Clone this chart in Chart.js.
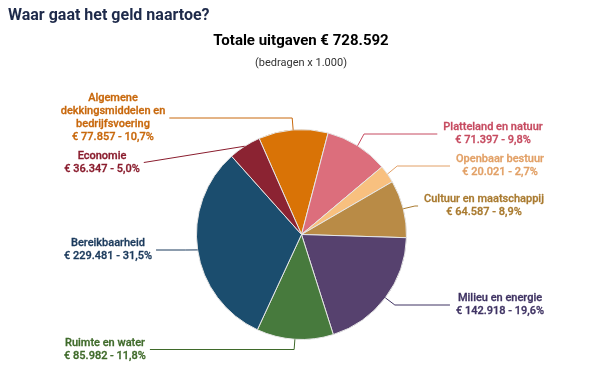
<!DOCTYPE html>
<html>
<head>
<meta charset="utf-8">
<script src="https://cdn.jsdelivr.net/npm/chart.js@4"></script>
<style>
  html, body { margin: 0; padding: 0; background: #ffffff; }
  canvas { display: block; }
</style>
</head>
<body>
<canvas id="c" width="602" height="384"></canvas>
<script>
// ---- Data ----
const categories = [
  "Algemene dekkingsmiddelen en bedrijfsvoering",
  "Platteland en natuur",
  "Openbaar bestuur",
  "Cultuur en maatschappij",
  "Milieu en energie",
  "Ruimte en water",
  "Bereikbaarheid",
  "Economie"
];
const amounts = [77857, 71397, 20021, 64587, 142918, 85982, 229481, 36347];
const percentages = ["10,7", "9,8", "2,7", "8,9", "19,6", "11,8", "31,5", "5,0"];
const amountLabels = ["77.857", "71.397", "20.021", "64.587", "142.918", "85.982", "229.481", "36.347"];
const chartTitle = "Waar gaat het geld naartoe?";
const totalTitle = "Totale uitgaven € 728.592";
const subTitle = "(bedragen x 1.000)";

// ---- Styles / layout ----
const sliceColors = ["#D97306", "#DC6E7C", "#F8C07F", "#B98B46", "#56416E", "#477A3D", "#1B4D6E", "#8B2332"];
const labelColors = ["#C8680C", "#C64B60", "#E2A066", "#A97A2F", "#3F3363", "#3F6A2A", "#1B3A5C", "#8A1D2E"];
// label box centre (x, y), side, wrap width, straight connector
const labelLayout = [
  { cx: 113, cy: 118, side: "left",  wrap: 115 },
  { cx: 493, cy: 134, side: "right", wrap: 160 },
  { cx: 500, cy: 166, side: "right", wrap: 160 },
  { cx: 484, cy: 206, side: "right", wrap: 160 },
  { cx: 500, cy: 305, side: "right", wrap: 160 },
  { cx: 105, cy: 349.5, side: "left", wrap: 115 },
  { cx: 108, cy: 250, side: "left",  wrap: 115 },
  { cx: 102, cy: 162.5, side: "left", wrap: 115, straight: true }
];
const LABEL_FONT = "500 11px Roboto, 'Liberation Sans', sans-serif";
const LINE_H = 13;

function wrapText(ctx, text, maxW) {
  const words = text.split(" ");
  const lines = [];
  let cur = "";
  words.forEach(w => {
    const t = cur ? cur + " " + w : w;
    if (ctx.measureText(t).width > maxW && cur) { lines.push(cur); cur = w; }
    else cur = t;
  });
  if (cur) lines.push(cur);
  return lines;
}

const labelPlugin = {
  id: "pieLabels",
  afterDraw(chart) {
    const ctx = chart.ctx;
    ctx.save();
    // Titles
    ctx.fillStyle = "#1E2A4A";
    ctx.font = "700 16px Roboto, 'Liberation Sans', sans-serif";
    ctx.textAlign = "left";
    ctx.textBaseline = "alphabetic";
    ctx.fillText(chartTitle, 8, 20);
    ctx.fillStyle = "#000000";
    ctx.font = "700 15px Roboto, 'Liberation Sans', sans-serif";
    ctx.textAlign = "center";
    ctx.fillText(totalTitle, 301, 45);
    ctx.fillStyle = "#333333";
    ctx.font = "400 11px Roboto, 'Liberation Sans', sans-serif";
    ctx.textBaseline = "middle";
    ctx.fillText(subTitle, 301, 63);

    const meta = chart.getDatasetMeta(0);
    meta.data.forEach((arc, i) => {
      const p = arc.getProps(["x", "y", "startAngle", "endAngle", "outerRadius"], true);
      const mid = (p.startAngle + p.endAngle) / 2;
      const ex = p.x + Math.cos(mid) * p.outerRadius;
      const ey = p.y + Math.sin(mid) * p.outerRadius;
      const bx = p.x + Math.cos(mid) * (p.outerRadius + 12);
      const L = labelLayout[i];
      ctx.font = LABEL_FONT;
      const lines = wrapText(ctx, categories[i], L.wrap);
      lines.push("€ " + amountLabels[i] + " - " + percentages[i] + "%");
      const maxW = Math.max(...lines.map(l => ctx.measureText(l).width));
      const endX = L.side === "left" ? L.cx + maxW / 2 + 4 : L.cx - maxW / 2 - 6;
      // connector
      ctx.strokeStyle = labelColors[i];
      ctx.lineWidth = 1;
      ctx.beginPath();
      ctx.moveTo(ex, ey);
      if (!L.straight) ctx.lineTo(bx, L.cy);
      ctx.lineTo(endX, L.cy);
      ctx.stroke();
      // text
      ctx.fillStyle = labelColors[i];
      ctx.textAlign = "center";
      ctx.textBaseline = "middle";
      ctx.lineWidth = 0.3;
      const n = lines.length;
      lines.forEach((l, k) => {
        const ty = L.cy + (k - (n - 1) / 2) * LINE_H;
        ctx.fillText(l, L.cx, ty);
        ctx.strokeText(l, L.cx, ty);
      });
    });
    ctx.restore();
  }
};

new Chart(document.getElementById("c"), {
  type: "pie",
  data: {
    labels: categories,
    datasets: [{
      data: amounts,
      backgroundColor: sliceColors,
      borderColor: "#e6e6e6",
      borderWidth: 1
    }]
  },
  options: {
    responsive: false,
    animation: false,
    rotation: -23.8,
    layout: { padding: { top: 129, bottom: 44, left: 196, right: 195 } },
    plugins: {
      legend: { display: false },
      tooltip: { enabled: false },
      title: { display: false }
    },
    events: []
  },
  plugins: [labelPlugin]
});
</script>
</body>
</html>
